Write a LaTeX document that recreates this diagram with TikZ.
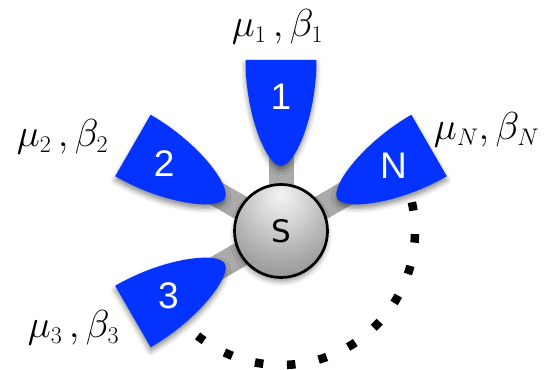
\RequirePackage{fix-cm}
\documentclass[tikz,border=0pt]{standalone}
\usepackage{fontspec}
\usetikzlibrary{calc,shadows.blur}
\newfontfamily\digitfam{Liberation Sans}
\newfontfamily\sphfam{DejaVu Sans}
\DeclareMathSizes{39}{39}{24}{17}
\definecolor{bladeblue}{RGB}{4,51,255}
\definecolor{stemgray}{RGB}{170,170,170}
\definecolor{sbhi}{RGB}{244,244,244}
\definecolor{sbmidA}{RGB}{210,211,210}
\definecolor{sbmid}{RGB}{168,170,168}
\definecolor{sbmidB}{RGB}{120,124,120}
\definecolor{sblo}{RGB}{72,78,72}
\pgfdeclareradialshading{sball}{\pgfpoint{0bp}{20bp}}{color(0bp)=(sbhi); color(14bp)=(sbmidA); color(30bp)=(sbmid); color(50bp)=(sbmidB); color(70bp)=(sblo); color(100bp)=(sblo)}
\pgfdeclarelayer{bg}
\pgfsetlayers{bg,main}
\begin{document}
\begin{tikzpicture}[x=1pt,y=1pt,
  stem/.style={line width=25pt, draw=stemgray},
  blade/.style={fill=bladeblue, blur shadow={shadow xshift=0pt, shadow yshift=-4pt, shadow blur radius=5pt, shadow opacity=45}},
  bladelabel/.style={text=white, inner sep=0pt, font=\digitfam\fontsize{37}{37}\selectfont},
  sphere/.style={circle, minimum size=93pt, inner sep=0pt, draw=black, line width=2.7pt, shade, shading=sball,
    blur shadow={shadow xshift=0pt, shadow yshift=-4pt, shadow blur radius=5pt, shadow opacity=40},
    font=\sphfam\fontsize{31}{31}\selectfont},
  param/.style={inner sep=0pt, font=\fontsize{39}{42}\selectfont},
  dots/.style={line width=8.5pt, line cap=butt, dash pattern=on 8.5pt off 23.65pt}]
\useasboundingbox (0,0) rectangle (550,370);
\coordinate (c) at (281,139);
\node[sphere] (S) at (c) {S};
\foreach \a/\n/\u in {90/1/134,150/2/135,210/3/130,30/N/130} {
  \path[blade] ($(c)+(\a:171)+(\a-90:35.5)$) -- ($(c)+(\a:171)+(\a+90:35.5)$)
    .. controls ($(c)+(\a:115)+(\a+90:35.5)$) and ($(c)+(\a:65)+(\a+90:14)$) .. ($(c)+(\a:65)$)
    .. controls ($(c)+(\a:65)+(\a-90:14)$) and ($(c)+(\a:115)+(\a-90:35.5)$) .. ($(c)+(\a:171)+(\a-90:35.5)$) -- cycle;
  \node[bladelabel] (b\n) at ($(c)+(\a:\u)$) {\n};
}
\begin{pgfonlayer}{bg}
  \foreach \n in {1,2,3,N} {
    \draw[stem] (S.center) -- (b\n.center);
  }
\end{pgfonlayer}
\node[param] (p1) at (277.5,343.5) {$\mu_1\,,\beta_1$};
\node[param] (p2) at (62.5,233) {$\mu_2\,,\beta_2$};
\node[param] (pN) at (486.5,240) {$\mu_N,\beta_N$};
\node[param] (p3) at (73.5,42) {$\mu_3\,,\beta_3$};
\draw[dots] ($(c)+(12.4:134)$) arc[start angle=12.4, end angle=-128.5, radius=134pt];
\end{tikzpicture}
\end{document}
